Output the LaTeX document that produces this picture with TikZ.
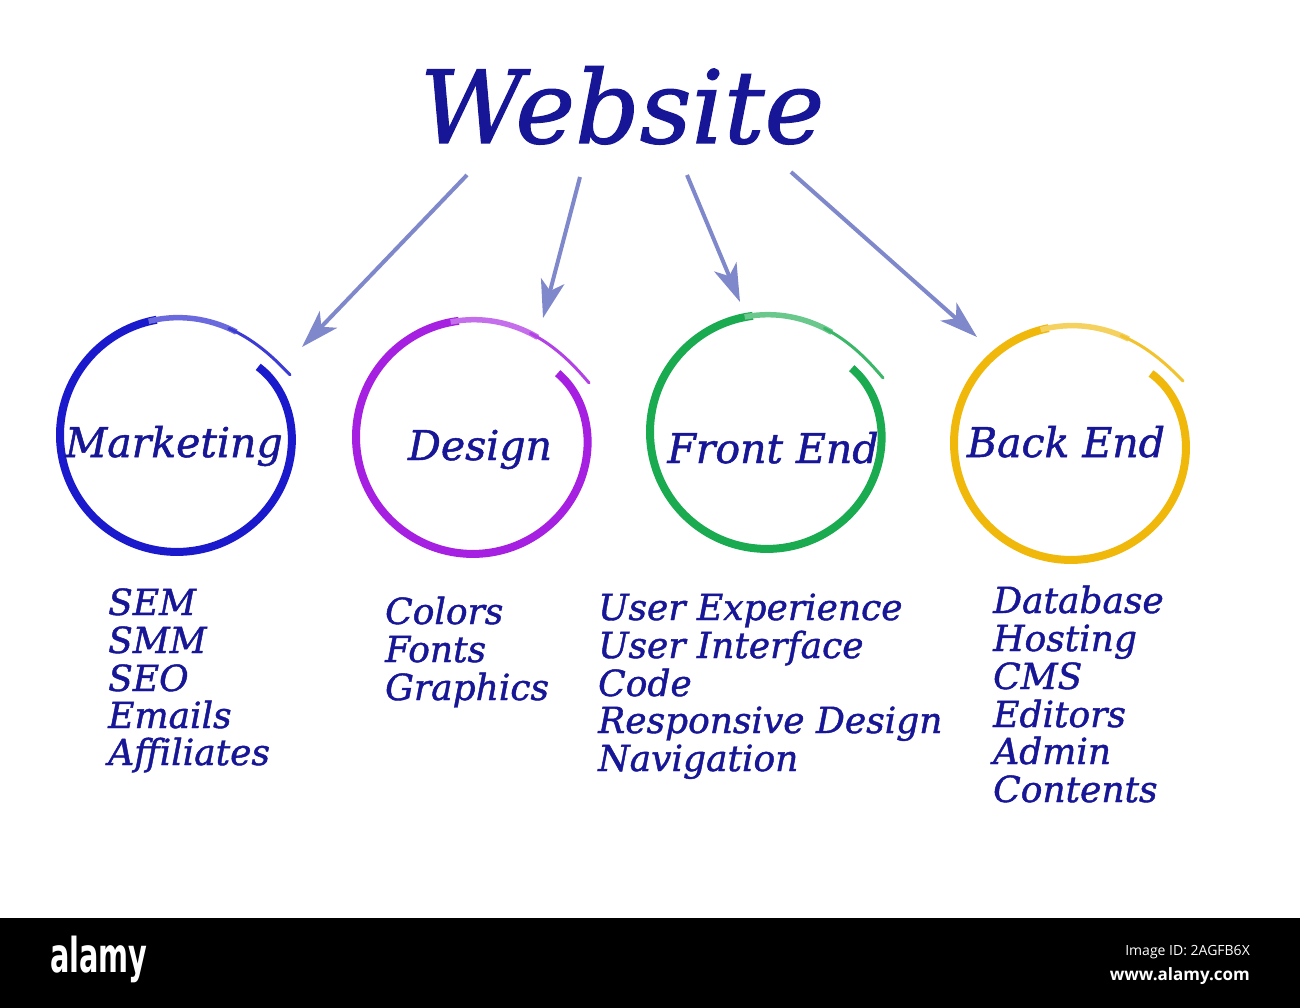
\documentclass[tikz,border=0pt]{standalone}
\usepackage{fontspec}
\setmainfont{DejaVu Serif}[ItalicFeatures={FakeBold=1.2}]
\newfontfamily\logofont[FakeStretch=0.6]{DejaVu Sans}
\newfontfamily\idfont{Open Sans}
\usetikzlibrary{arrows.meta}
\definecolor{txt}{RGB}{22,22,150}
\definecolor{arr}{RGB}{128,136,204}
\definecolor{cmark}{RGB}{26,26,204}
\definecolor{cdes}{RGB}{165,32,225}
\definecolor{cfront}{RGB}{26,170,80}
\definecolor{cback}{RGB}{240,184,10}
\newcommand\spiralring[4]{%
  \draw[line width=8pt,draw=#4] plot[domain=0:300,samples=130,smooth]
    ({#1+(117-11*exp(-\x/25))*cos(#3-\x)},{#2-(117-11*exp(-\x/25))*sin(#3-\x)});
  \draw[line width=5.5pt,draw=#4!65] plot[domain=296:340,samples=30,smooth]
    ({#1+(117+11*exp((\x-372)/18))*cos(#3-\x)},{#2-(117+11*exp((\x-372)/18))*sin(#3-\x)});
  \draw[line width=3pt,draw=#4!85,line cap=round] plot[domain=336:372,samples=25,smooth]
    ({#1+(117+11*exp((\x-372)/18))*cos(#3-\x)},{#2-(117+11*exp((\x-372)/18))*sin(#3-\x)});
}
\tikzset{
  lbl/.style={text=txt,font=\itshape\fontsize{41}{43}\selectfont,anchor=base,inner sep=0},
  item/.style={text=txt,font=\itshape\fontsize{36}{38}\selectfont,anchor=base west,inner sep=0},
  arrowline/.style={draw=arr,line width=4pt,-{Stealth[length=38pt,width=24pt,inset=10pt]}},
}
\begin{document}
\begin{tikzpicture}[x=1pt,y=-1pt]
\useasboundingbox (0,0) rectangle (1300,1008);
\fill[white] (0,0) rectangle (1300,1008);
% title
\node[text=txt,font=\itshape\fontsize{101}{103}\selectfont,anchor=base,inner sep=0] (title) at (622,143) {Website};
% arrows
\coordinate (s1) at (467,175); \coordinate (e1) at (302,347);
\coordinate (s2) at (580,177); \coordinate (e2) at (543,318);
\coordinate (s3) at (687,175); \coordinate (e3) at (740,302);
\coordinate (s4) at (791,172); \coordinate (e4) at (977,337);
\draw[arrowline] (s1) -- (e1);
\draw[arrowline] (s2) -- (e2);
\draw[arrowline] (s3) -- (e3);
\draw[arrowline] (s4) -- (e4);
% circles
\spiralring{177}{435}{40}{cmark}
\spiralring{473}{437}{37}{cdes}
\spiralring{767}{432}{37}{cfront}
\spiralring{1071}{443}{41}{cback}
% labels
\node[lbl] (mk) at (174,457) {Marketing};
\node[lbl] (ds) at (480,460) {Design};
\node[lbl] (fe) at (773,463) {Front End};
\node[lbl] (be) at (1066,457) {Back End};
% lists
\node[item] (m1) at (108,615) {SEM};
\node[item] (m2) at (108,653) {SMM};
\node[item] (m3) at (108,691) {SEO};
\node[item] (m4) at (108,728) {Emails};
\node[item] (m5) at (108,765) {Affiliates};
\node[item] (d1) at (385,624) {Colors};
\node[item] (d2) at (385,662) {Fonts};
\node[item] (d3) at (385,700) {Graphics};
\node[item] (f1) at (598,620) {User Experience};
\node[item] (f2) at (598,658) {User Interface};
\node[item] (f3) at (598,696) {Code};
\node[item] (f4) at (598,733) {Responsive Design};
\node[item] (f5) at (598,771) {Navigation};
\node[item] (b1) at (993,613) {Database};
\node[item] (b2) at (993,651) {Hosting};
\node[item] (b3) at (993,689) {CMS};
\node[item] (b4) at (993,727) {Editors};
\node[item] (b5) at (993,764) {Admin};
\node[item] (b6) at (993,802) {Contents};
% watermark bar
\fill[black] (0,918) rectangle (1300,1008);
\node[text=white,font=\logofont\bfseries\fontsize{48}{50}\selectfont,anchor=base west,inner sep=0] (logo) at (50,972) {alamy};
\node[text=white,font=\idfont\fontsize{14}{16}\selectfont,anchor=base east,inner sep=0] (imgid) at (1250,955) {Image ID: 2AGFB6X};
\node[text=white,font=\idfont\bfseries\fontsize{17}{19}\selectfont,anchor=base east,inner sep=0] (www) at (1250,980) {www.alamy.com};
\end{tikzpicture}
\end{document}
